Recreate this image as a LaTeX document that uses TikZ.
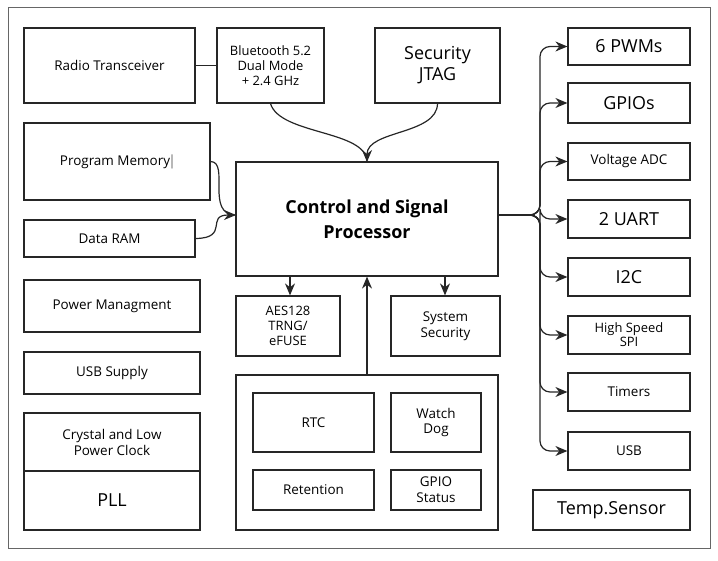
\documentclass[tikz,border=0pt]{standalone}
\usepackage{fontspec}
\setmainfont{Open Sans}
\usetikzlibrary{arrows.meta}
\begin{document}
\begin{tikzpicture}[x=1bp,y=-1bp,
  bx/.style={draw=black!85,line width=1.2bp,rectangle,inner sep=0pt,align=center,font=\fontsize{13.5}{16}\selectfont},
  big/.style={font=\fontsize{18}{21}\selectfont},
  ar/.style={draw=black!85,line width=1.2bp,-{Stealth[length=12bp,width=10bp]}},
  ln/.style={draw=black!85,line width=1.2bp}]
\useasboundingbox (0,0) rectangle (718,561);
\draw[black!60,line width=1bp] (8,8) rectangle (710,548);
\newcommand{\bx}[7][]{\node[bx,#1,minimum width={(#5-#3)*1bp},minimum height={(#6-#4)*1bp}] (#2) at ({(#3+#5)/2},{(#4+#6)/2}) {#7};}
\bx{radio}{24}{28}{195}{103}{Radio Transceiver}
\bx[font=\fontsize{13}{15}\selectfont]{bt}{217}{28}{324}{103}{Bluetooth 5.2\\Dual Mode\\+ 2.4 GHz}
\bx[big]{jtag}{375}{28}{500}{103}{Security\\JTAG}
\bx{pm}{24}{123}{210}{200}{Program Memory$|$}
\bx{ram}{24}{220}{195}{257}{Data RAM}
\bx[font=\fontsize{18}{25}\selectfont\bfseries]{cpu}{236}{162}{498}{276}{Control and Signal\\Processor}
\bx{pwr}{24}{280}{200}{332}{Power Managment}
\bx{usbs}{24}{352}{200}{394}{USB Supply}
\bx{xtal}{24}{413}{200}{471}{Crystal and Low\\Power Clock}
\bx[big]{pll}{24}{471}{200}{530}{PLL}
\bx[font=\fontsize{13}{15}\selectfont]{aes}{236}{296}{340}{356}{AES128\\TRNG/\\eFUSE}
\bx{sys}{391}{296}{500}{356}{System\\Security}
\bx{low}{236}{375}{498}{530}{}
\bx{rtc}{253}{393}{374}{452}{RTC}
\bx{wd}{391}{393}{481}{452}{Watch\\Dog}
\bx{ret}{253}{470}{374}{510}{Retention}
\bx{gst}{391}{470}{481}{510}{GPIO\\Status}
\bx[big]{r1}{568}{28}{690}{65}{6 PWMs}
\bx[big]{r2}{568}{83}{690}{123}{GPIOs}
\bx{r3}{568}{143}{690}{180}{Voltage ADC}
\bx[big]{r4}{568}{200}{690}{238}{2 UART}
\bx[big]{r5}{568}{258}{690}{296}{I2C}
\bx[font=\fontsize{13}{14}\selectfont]{r6}{568}{316}{690}{354}{High Speed\\SPI}
\bx{r7}{568}{373}{690}{411}{Timers}
\bx{r8}{568}{432}{690}{470}{USB}
\bx[big]{ts}{533}{490}{690}{530}{Temp.Sensor}
\draw[ln] (radio.east) -- (bt.west);
\coordinate (cin) at (367,162);
\draw[ln] (bt.south) .. controls (280,135) and (367,130) .. (cin);
\draw[ar] (jtag.south) .. controls (437,135) and (367,130) .. (cin);
\coordinate (lin) at (236,215);
\draw[ln] (pm.east) .. controls (230,162) and (205,215) .. (lin);
\draw[ar] (ram.east) .. controls (230,238) and (205,215) .. (lin);
\coordinate (bus) at (498,215);
\coordinate (tr) at (540,215);
\foreach \n in {r1,r2,r3,r4,r5,r6,r7,r8}{
  \draw[ar,rounded corners=10bp] (bus) -- (tr) -- (tr |- \n.west) -- (\n.west);
}
\draw[ar] (290,276) -- (aes.north -| 290,0);
\draw[ar] (445,276) -- (sys.north -| 445,0);
\draw[ar] (low.north) -- (cpu.south);
\end{tikzpicture}
\end{document}
